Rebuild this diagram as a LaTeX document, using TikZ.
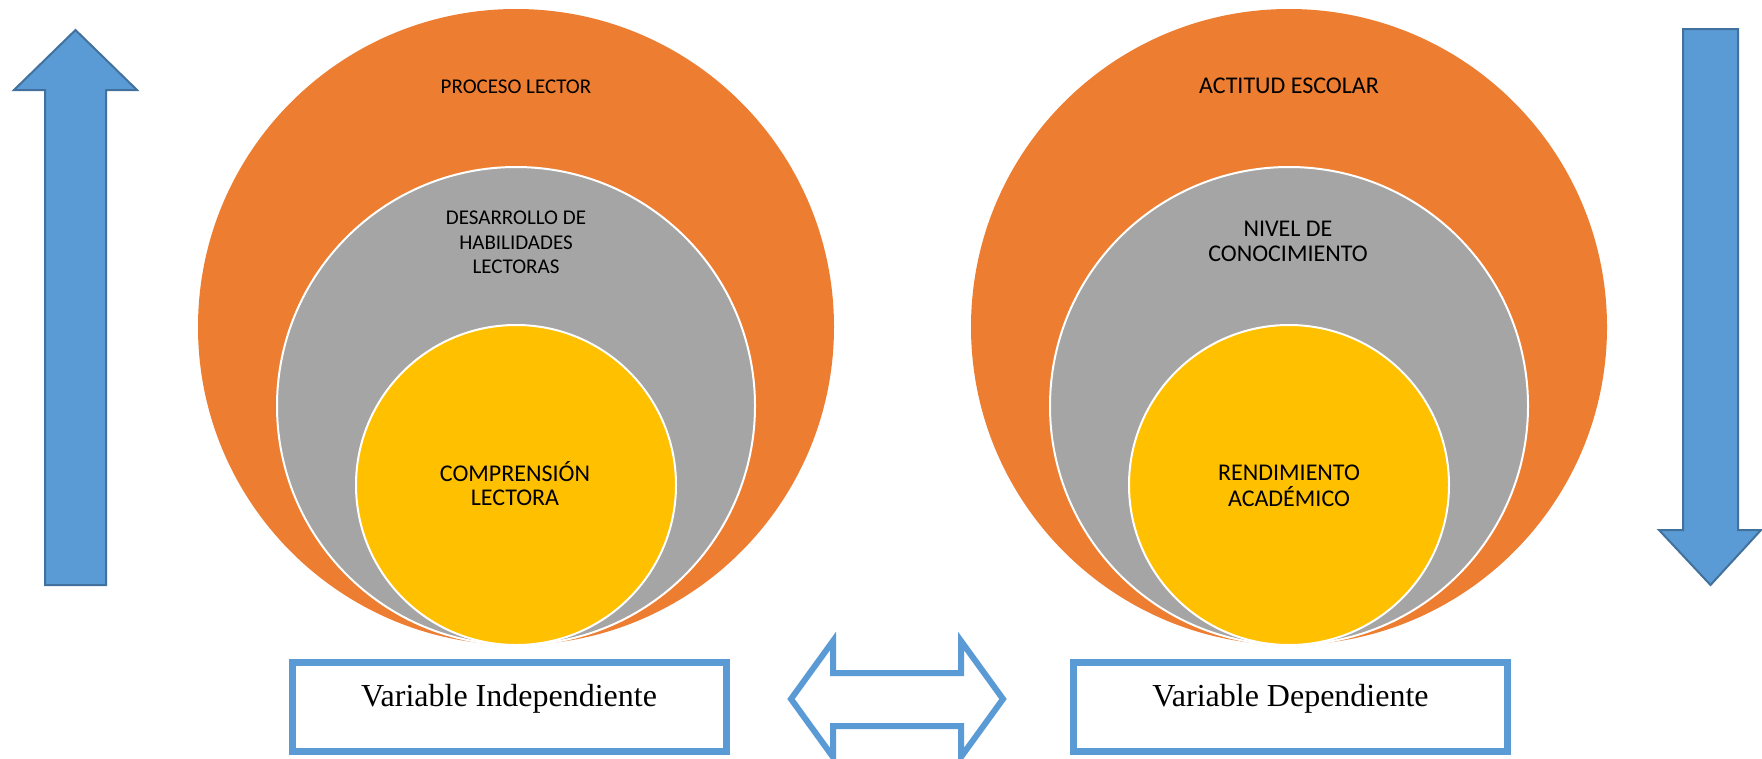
\documentclass[tikz,border=0pt]{standalone}
\usepackage{fontspec}
\setmainfont{Carlito}
\newfontfamily\boxfont{Liberation Serif}
\definecolor{orangeC}{HTML}{ED7D31}
\definecolor{grayC}{HTML}{A5A5A5}
\definecolor{yellowC}{HTML}{FFC000}
\definecolor{blueC}{HTML}{5B9BD5}
\definecolor{blueD}{HTML}{41719C}
\begin{document}
\begin{tikzpicture}[x=1pt,y=-1pt,
  disc/.style={circle,inner sep=0pt,minimum size=#1},
  outerdisc/.style={disc=#1,fill=orangeC},
  middisc/.style={disc=#1,fill=grayC,draw=white,line width=2pt},
  innerdisc/.style={disc=#1,fill=yellowC,draw=white,line width=2pt},
  smalltxt/.style={anchor=base,inner sep=0pt,font=\fontsize{21}{25}\selectfont},
  bigtxt/.style={anchor=base,inner sep=0pt,font=\fontsize{24}{28}\selectfont},
  varbox/.style={draw=blueC,line width=7pt,fill=white,minimum width=434pt,minimum height=89pt,inner sep=0pt},
  vartxt/.style={anchor=base,inner sep=0pt,font=\boxfont\fontsize{32}{38}\selectfont},
  bigarrow/.style={fill=blueC,draw=blueD,line width=2pt,line join=miter},
  dblarrow/.style={draw=blueC,line width=6pt,line join=miter}
]
\useasboundingbox (0,0) rectangle (1762,758);
\fill[white] (0,0) rectangle (1762,758);

% left circles
\node[outerdisc=636pt] (lo) at (516,327) {};
\node[middisc=478pt] (lm) at (516,406) {};
\node[innerdisc=320pt] (li) at (516,485) {};
% right circles
\node[outerdisc=636pt] (ro) at (1289,327) {};
\node[middisc=478pt] (rm) at (1289,406) {};
\node[innerdisc=320pt] (ri) at (1289,485) {};

% left texts
\node[smalltxt] (t1) at (516,93) {PROCESO LECTOR};
\node[smalltxt] (t2) at (516,224) {DESARROLLO DE};
\node[smalltxt] (t3) at (516,249) {HABILIDADES};
\node[smalltxt] (t4) at (516,273) {LECTORAS};
\node[bigtxt] (t5) at (515,481) {COMPRENSIÓN};
\node[bigtxt] (t6) at (515,505) {LECTORA};
% right texts
\node[bigtxt] (r1) at (1289,93) {ACTITUD ESCOLAR};
\node[bigtxt] (r2) at (1288,236) {NIVEL DE};
\node[bigtxt] (r3) at (1288,261) {CONOCIMIENTO};
\node[bigtxt] (r4) at (1289,480) {RENDIMIENTO};
\node[bigtxt] (r5) at (1289,506) {ACADÉMICO};

% variable boxes
\node[varbox] (bi) at (509,706.5) {};
\node[vartxt] (bit) at (509,706) {Variable Independiente};
\node[varbox] (bd) at (1290.5,706.5) {};
\node[vartxt] (bdt) at (1290.5,706) {Variable Dependiente};

% up arrow (left)
\draw[bigarrow] (45,585) -- (45,90) -- (14,90) -- (75.5,30) -- (137,90) -- (106,90) -- (106,585) -- cycle;
% down arrow (right)
\draw[bigarrow] (1683,29) -- (1738,29) -- (1738,530) -- (1761,530) -- (1710.5,585) -- (1659,530) -- (1683,530) -- cycle;

% double arrow
\draw[dblarrow] (791,699) -- (833,641) -- (833,673) -- (961,673) -- (961,641) -- (1003,699)
  -- (961,757) -- (961,726) -- (833,726) -- (833,757) -- cycle;
\end{tikzpicture}
\end{document}
